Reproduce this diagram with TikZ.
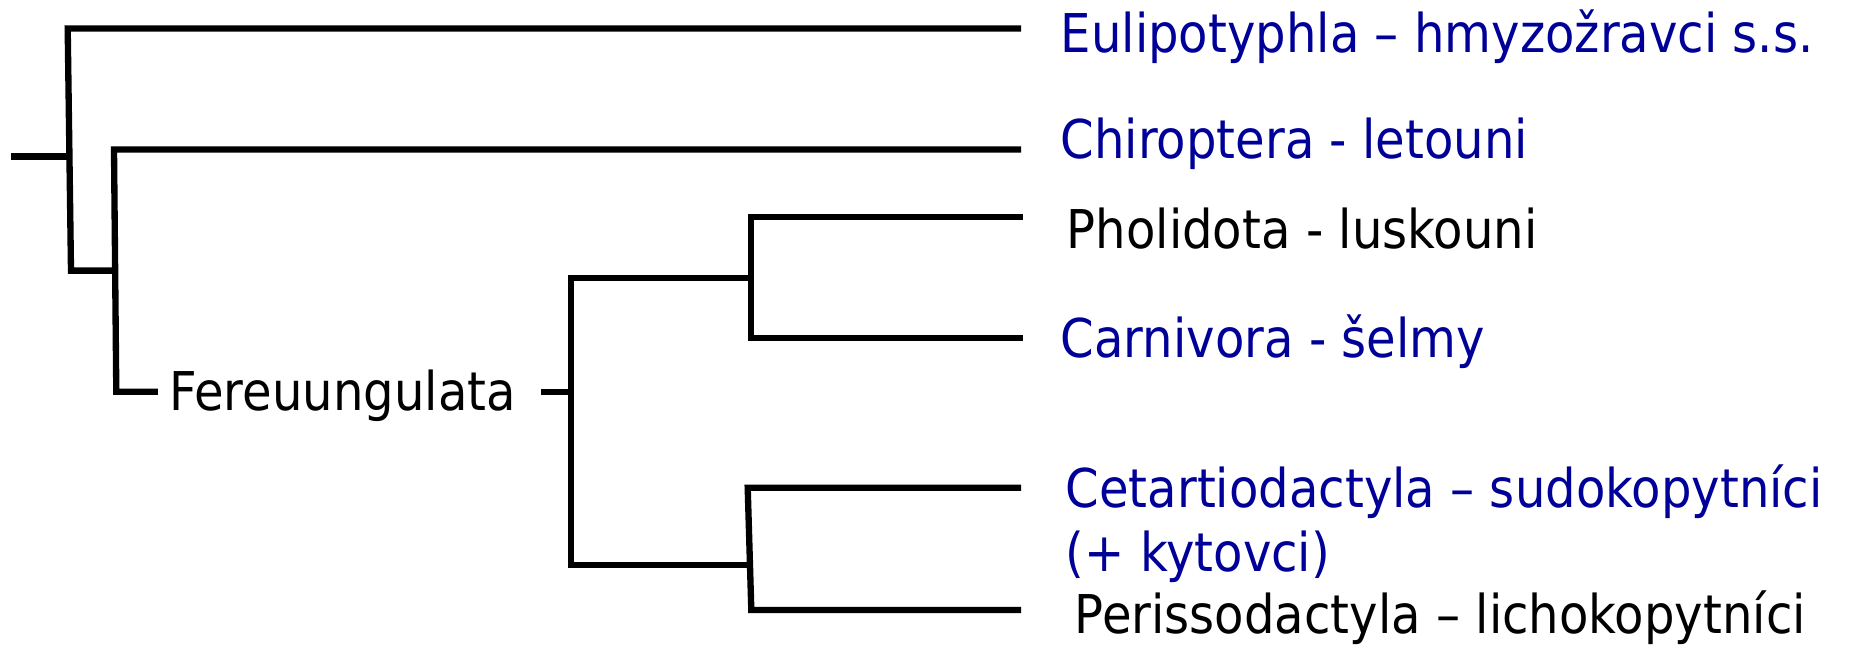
\documentclass[tikz,border=0pt]{standalone}
\usepackage{fontspec}
\setmainfont[FakeStretch=0.9]{DejaVu Sans}
\definecolor{taxblue}{RGB}{0,0,153}
\tikzset{
  branch/.style={line width=1.8pt,line join=miter},
  taxon/.style={anchor=base west,inner sep=0pt,font=\fontsize{15.2}{18.2}\selectfont},
  bluetaxon/.style={taxon,text=taxblue},
}

\begin{document}
\begin{tikzpicture}[x=0.01cm,y=-0.01cm]
		\useasboundingbox (0,0) rectangle (1861,646);
		% taxa names
		\node[bluetaxon] (euli) at (1060,53) {Eulipotyphla – hmyzožravci s.s.};
		\node[bluetaxon] (chiro) at (1060,159) {Chiroptera - letouni};
		\node[taxon] (phol) at (1066,249) {Pholidota - luskouni};
		\node[bluetaxon] (carn) at (1060,357.5) {Carnivora - šelmy};
		\node[bluetaxon,align=left] (ceta) at (1065,571.5) {Cetartiodactyla – sudokopytníci\\(+ kytovci)};
		\node[taxon] (peri) at (1074,633.5) {Perissodactyla – lichokopytníci};
		\node[taxon] (fereu) at (168.5,410) {Fereuungulata};
		% branch tips
		\coordinate (tipeuli) at (1021,28.5);
		\coordinate (tipchiro) at (1021,149.5);
		\coordinate (tipphol) at (1023,217.2);
		\coordinate (tipcarn) at (1023,338.3);
		\coordinate (tipceta) at (1021,487.8);
		\coordinate (tipperi) at (1021,610);
		% inner nodes
		\coordinate (root) at (11,156.5);
		\coordinate (n1) at (69.4,156.5);
		\coordinate (n1top) at (67.7,28.5);
		\coordinate (n1bot) at (71,270.6);
		\coordinate (n2) at (115.2,270.6);
		\coordinate (n2top) at (114,149.5);
		\coordinate (n2bot) at (116.3,391.7);
		\coordinate (fereuL) at (157.9,391.7);
		\coordinate (fereuR) at (541,391.7);
		\coordinate (n3) at (571,391.7);
		\coordinate (n3top) at (571,277.7);
		\coordinate (n3bot) at (571,565);
		\coordinate (n4) at (751.3,277.7);
		\coordinate (n4top) at (751.3,217.2);
		\coordinate (n4bot) at (751.3,338.3);
		\coordinate (n5) at (750,565);
		\coordinate (n5top) at (747.7,487.8);
		\coordinate (n5bot) at (751.3,610);
		% tree
		\draw[branch] (root) -- (n1);
		\draw[branch] (tipeuli) -- (n1top) -- (n1bot) -- (n2);
		\draw[branch] (tipchiro) -- (n2top) -- (n2bot) -- (fereuL);
		\draw[branch] (fereuR) -- (n3);
		\draw[branch] (n4) -- (n3top) -- (n3bot) -- (n5);
		\draw[branch] (tipphol) -- (n4top) -- (n4bot) -- (tipcarn);
		\draw[branch] (tipceta) -- (n5top) -- (n5bot) -- (tipperi);
\end{tikzpicture}
\end{document}
